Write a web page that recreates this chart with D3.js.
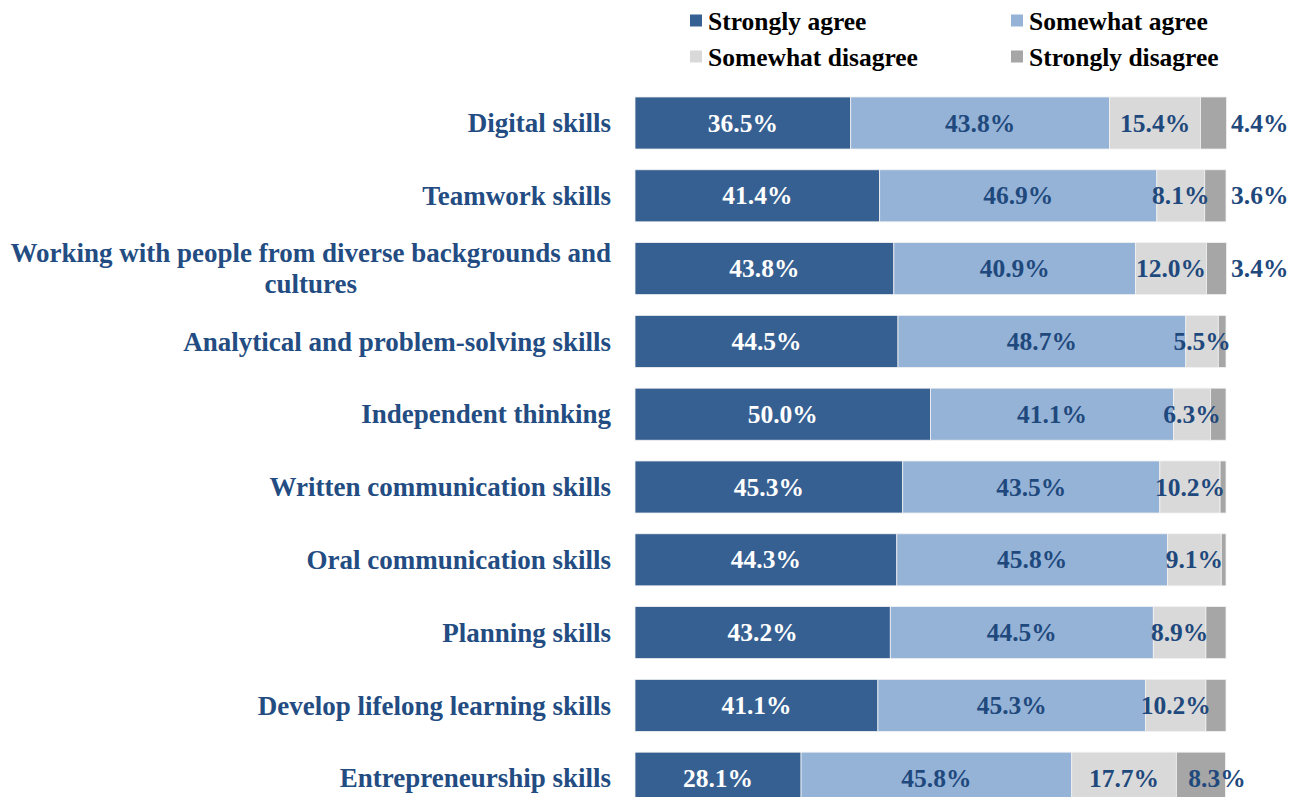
<!DOCTYPE html>
<html>
<head>
<meta charset="utf-8" />
<title>Skills agreement</title>
<script src="https://d3js.org/d3.v7.min.js"></script>
<style>
body { margin: 0; background: #fff; }
svg { display: block; }
text { font-family: "Liberation Serif", "Times New Roman", serif; font-weight: bold; }
.cat { fill: #234c82; font-size: 27px; }
.val { font-size: 25.5px; }
.leg { fill: #000; font-size: 25.5px; }
</style>
</head>
<body>
<div id="chart"></div>
<script>
var categories = [
    "Digital skills",
    "Teamwork skills",
    "Working with people from diverse backgrounds and cultures",
    "Analytical and problem-solving skills",
    "Independent thinking",
    "Written communication skills",
    "Oral communication skills",
    "Planning skills",
    "Develop lifelong learning skills",
    "Entrepreneurship skills"
];
var series = ["Strongly agree", "Somewhat agree", "Somewhat disagree", "Strongly disagree"];
var stronglyAgree    = [36.5, 41.4, 43.8, 44.5, 50.0, 45.3, 44.3, 43.2, 41.1, 28.1];
var somewhatAgree    = [43.8, 46.9, 40.9, 48.7, 41.1, 43.5, 45.8, 44.5, 45.3, 45.8];
var somewhatDisagree = [15.4,  8.1, 12.0,  5.5,  6.3, 10.2,  9.1,  8.9, 10.2, 17.7];
var stronglyDisagree = [ 4.4,  3.6,  3.4,  1.3,  2.6,  1.0,  0.8,  3.4,  3.4,  8.3];
// which "strongly disagree" labels appear on the original
var showDisagree = [true, true, true, false, false, false, false, false, false, true];
var colors = ["#376092", "#95b3d7", "#d9d9d9", "#a6a6a6"];
var labelColors = ["#ffffff", "#1f497d", "#1f497d", "#1f497d"];

var width = 1307, height = 797;
var svg = d3.select("#chart").append("svg")
    .attr("width", width).attr("height", height);

var x = d3.scaleLinear().domain([0, 100]).range([635, 1226]);
var y = d3.scaleBand().domain(categories).range([86.6, 814.6])
    .paddingInner(0.285).paddingOuter(0.1425);

var rows = categories.map(function(c, i) {
    return { cat: c, vals: [stronglyAgree[i], somewhatAgree[i], somewhatDisagree[i], stronglyDisagree[i]], show: showDisagree[i] };
});
rows.forEach(function(r) {
    var acc = 0;
    r.segs = r.vals.map(function(v, k) {
        var s = { k: k, v: v, x0: acc, x1: acc + v, cat: r.cat, show: k < 3 || r.show };
        acc += v;
        return s;
    });
});

var g = svg.append("g");
var row = g.selectAll("g.row").data(rows).enter().append("g").attr("class", "row");

row.selectAll("rect").data(function(d) { return d.segs; }).enter().append("rect")
    .attr("x", function(d) { return x(d.x0); })
    .attr("y", function(d) { return y(d.cat); })
    .attr("width", function(d) { return x(d.x1) - x(d.x0); })
    .attr("height", y.bandwidth())
    .attr("fill", function(d) { return colors[d.k]; })
    .attr("stroke", "#f2f2f2")
    .attr("stroke-width", 0.8);

row.selectAll("text.val").data(function(d) { return d.segs.filter(function(s) { return s.show; }); })
    .enter().append("text")
    .attr("class", "val")
    .attr("x", function(d) {
        if (d.k < 3) return (x(d.x0) + x(d.x1)) / 2;
        if (d.v >= 5) return x(d.x0) + 12;
        return x(100) + 5;
    })
    .attr("y", function(d) { return y(d.cat) + y.bandwidth() / 2; })
    .attr("dy", "0.34em")
    .attr("text-anchor", function(d) { return d.k < 3 ? "middle" : "start"; })
    .attr("fill", function(d) { return labelColors[d.k]; })
    .text(function(d) { return d.v.toFixed(1) + "%"; });

// category labels, wrapped ones are centred under the first line
var labelRight = 611;
var wrapAt = { "Working with people from diverse backgrounds and cultures": ["Working with people from diverse backgrounds and", "cultures"] };
categories.forEach(function(c) {
    var cy = y(c) + y.bandwidth() / 2;
    var lines = wrapAt[c];
    if (!lines) {
        svg.append("text").attr("class", "cat")
            .attr("x", labelRight).attr("y", cy).attr("dy", "0.34em")
            .attr("text-anchor", "end").text(c);
        return;
    }
    var t1 = svg.append("text").attr("class", "cat")
        .attr("x", labelRight).attr("y", cy - 15.5).attr("dy", "0.34em")
        .attr("text-anchor", "end").text(lines[0]);
    var w1 = t1.node().getComputedTextLength();
    svg.append("text").attr("class", "cat")
        .attr("x", labelRight - w1 / 2).attr("y", cy + 15.5).attr("dy", "0.34em")
        .attr("text-anchor", "middle").text(lines[1]);
});

// legend
var legX = [690, 1011], legY = [21, 57];
var leg = svg.append("g").selectAll("g").data(series).enter().append("g")
    .attr("transform", function(d, i) { return "translate(" + legX[i % 2] + "," + legY[Math.floor(i / 2)] + ")"; });
leg.append("rect").attr("x", 0).attr("y", -6.5).attr("width", 12).attr("height", 12)
    .attr("fill", function(d, i) { return colors[i]; });
leg.append("text").attr("class", "leg").attr("x", 18).attr("y", 0).attr("dy", "0.34em")
    .text(function(d) { return d; });
</script>
</body>
</html>
